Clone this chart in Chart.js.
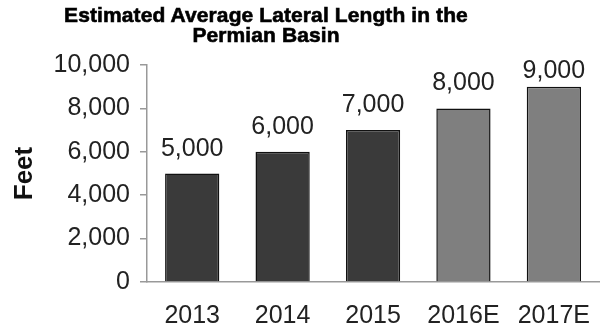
<!DOCTYPE html>
<html>
<head>
<meta charset="utf-8">
<script src="https://cdn.jsdelivr.net/npm/chart.js@4.4.1/dist/chart.umd.min.js"></script>
<style>
  html, body { margin: 0; padding: 0; background: #fff; }
  #wrap { position: relative; width: 601px; height: 331px; }
  #title {
    position: absolute; left: 0; top: 5px; width: 532px;
    text-align: center; font-family: "Liberation Sans", Arial, sans-serif;
    font-weight: bold; font-size: 21px; line-height: 20px; color: #000;
    -webkit-text-stroke: 0.6px #000; letter-spacing: 0.1px;
  }
  canvas { position: absolute; left: 0; top: 0; }
</style>
</head>
<body>
<div id="wrap">
  <canvas id="c" width="601" height="331"></canvas>
  <div id="title">Estimated Average Lateral Length in the<br>Permian Basin</div>
</div>
<script>
const categories = ["2013", "2014", "2015", "2016E", "2017E"];
const lateralFeet = [5000, 6000, 7000, 8000, 9000];
const yTicks = [0, 2000, 4000, 6000, 8000, 10000];
const barColors = ["#3a3a3a", "#3a3a3a", "#3a3a3a", "#7f7f7f", "#7f7f7f"];

const fmt = v => v.toLocaleString("en-US");
const FONT = "Liberation Sans, Arial, sans-serif";

// Writes each bar's value just above its top edge, kept clear of the canvas top
const valueLabels = {
  id: "valueLabels",
  afterDatasetsDraw(chart) {
    const ctx = chart.ctx;
    const meta = chart.getDatasetMeta(0);
    ctx.save();
    ctx.font = "25px " + FONT;
    ctx.fillStyle = "#222";
    ctx.textAlign = "center";
    ctx.textBaseline = "alphabetic";
    meta.data.forEach((bar, i) => {
      ctx.fillText(fmt(lateralFeet[i]), bar.x, Math.max(bar.y - 18, 78));
    });
    ctx.restore();
  }
};

new Chart(document.getElementById("c"), {
  type: "bar",
  data: {
    labels: categories,
    datasets: [{
      data: lateralFeet,
      backgroundColor: barColors,
      borderColor: "#111",
      borderWidth: 1.5,
      barPercentage: 0.6,
      categoryPercentage: 1
    }]
  },
  options: {
    responsive: false,
    animation: false,
    layout: { padding: { top: 65, right: 0, left: 0, bottom: 0 } },
    plugins: { legend: { display: false }, tooltip: { enabled: false }, title: { display: false } },
    scales: {
      x: {
        grid: { display: false },
        border: { display: true, color: "#999", width: 1.5 },
        ticks: { color: "#222", font: { family: FONT, size: 25 }, padding: 11, maxRotation: 0 },
        afterFit(scale) { scale.height = 49; }
      },
      y: {
        min: 0, max: 10000,
        afterBuildTicks(scale) { scale.ticks = yTicks.map(v => ({ value: v })); },
        grid: { display: true, drawOnChartArea: false, drawTicks: true, tickLength: 7, color: "#999", lineWidth: 1.5 },
        border: { display: true, color: "#999", width: 1.5 },
        ticks: { color: "#222", font: { family: FONT, size: 25 }, padding: 10, callback: v => fmt(v) },
        title: { display: true, text: "Feet", color: "#111", font: { family: FONT, size: 26, weight: "bold" }, padding: { top: 9, bottom: 0 } },
        afterFit(scale) { scale.width = 147; }
      }
    }
  },
  plugins: [valueLabels]
});
</script>
</body>
</html>
